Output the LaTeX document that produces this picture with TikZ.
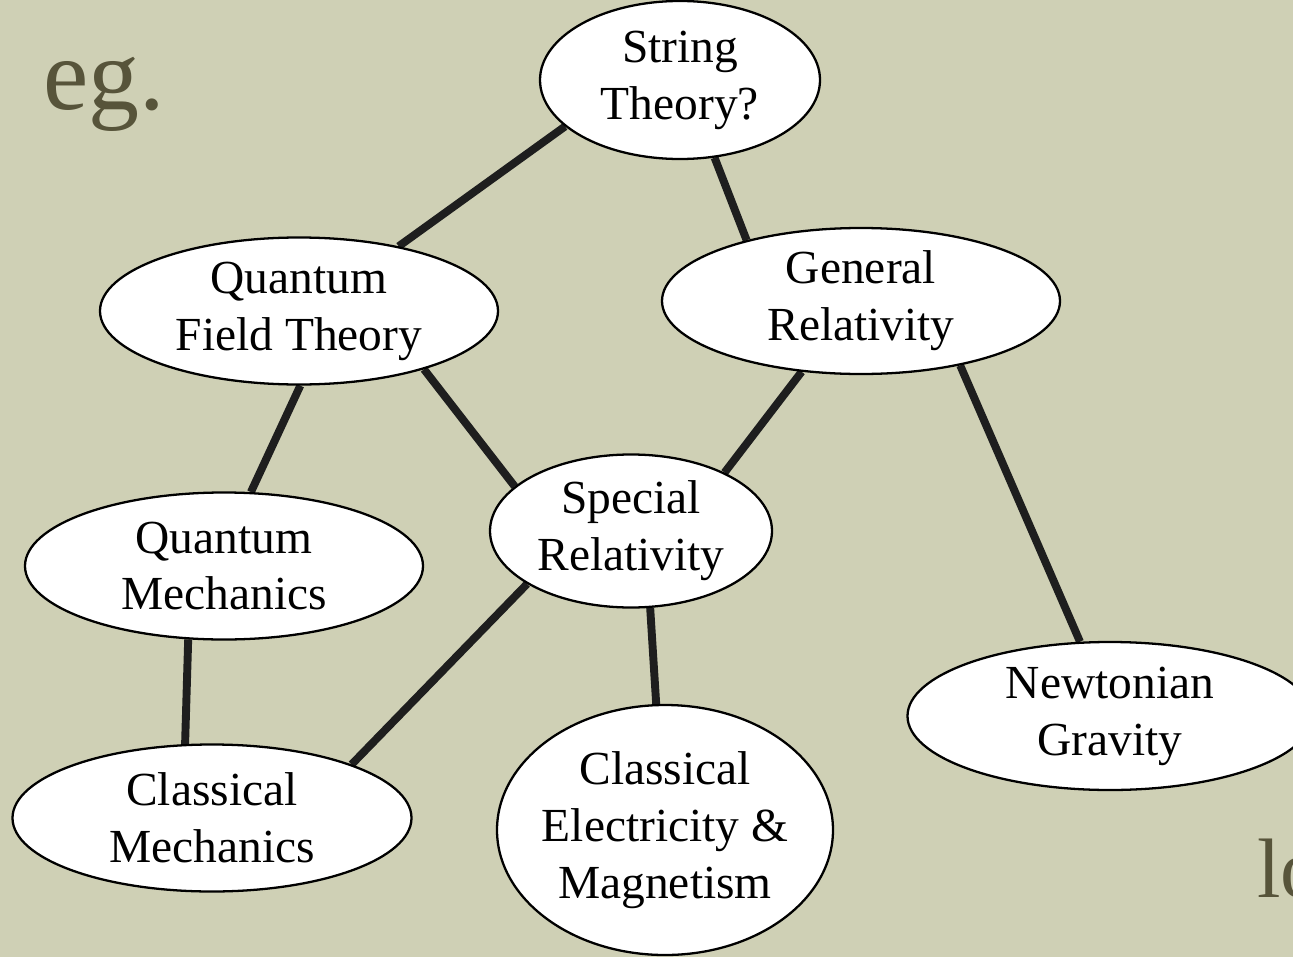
\documentclass[tikz,border=0pt]{standalone}
\usepackage{fontspec}
\setmainfont{Liberation Serif}
\usepackage{tikz}
\usetikzlibrary{shapes.geometric,backgrounds}
\definecolor{paperx}{HTML}{CFD0B5}
\definecolor{olivex}{HTML}{57543A}
\definecolor{inkx}{HTML}{1E1E1E}
\tikzset{
  topic/.style={draw=black,line width=1.3pt,ellipse,fill=white,inner sep=0pt,align=center,font=\fontsize{27}{32.4}\selectfont},
  link/.style={line width=4.5pt,inkx},
  big/.style={olivex,inner sep=0pt,anchor=base west}
}
\begin{document}
\begin{tikzpicture}
\begin{scope}[on background layer]
\fill[paperx] (0,0) rectangle (25.86,-19.14);
\end{scope}
\clip (0,0) rectangle (25.86,-19.14);
\node[big,font=\fontsize{58}{60}\selectfont] (eg) at (0.86,-2.2) {eg.};
\node[big,font=\fontsize{48}{56}\selectfont] (lo) at (25.14,-17.94) {lo};
\node[topic,minimum width=5.6cm,minimum height=3.16cm] (str) at (13.60,-1.60) {String\\Theory?};
\node[topic,minimum width=7.96cm,minimum height=2.94cm] (qft) at (5.98,-6.22) {Quantum\\Field Theory};
\node[topic,minimum width=7.96cm,minimum height=2.92cm] (gr) at (17.22,-6.02) {General\\Relativity};
\node[topic,minimum width=5.64cm,minimum height=3.06cm] (sr) at (12.62,-10.62) {Special\\Relativity};
\node[topic,minimum width=7.96cm,minimum height=2.94cm] (qm) at (4.48,-11.32) {Quantum\\Mechanics};
\node[topic,minimum width=7.98cm,minimum height=2.94cm] (clm) at (4.24,-16.36) {Classical\\Mechanics};
\node[topic,inner xsep=-0.12cm,minimum width=6.72cm,minimum height=5.0cm] (cem) at (13.30,-16.60) {Classical\\Electricity \&\\Magnetism};
\node[topic,minimum width=8.1cm,minimum height=2.96cm] (ng) at (22.20,-14.32) {Newtonian\\Gravity};
\begin{scope}[on background layer]
\foreach \a/\aa/\b/\bb in {str/202/qft/33,str/-66/gr/152,qft/-89/qm/70,qft/-25/sr/159,gr/-130/sr/32,gr/-33/ng/112,sr/207/clm/21,sr/-76/cem/94,qm/-116/clm/110}
  {\draw[link] (\a.\aa) -- (\b.\bb);}
\end{scope}
\end{tikzpicture}
\end{document}
